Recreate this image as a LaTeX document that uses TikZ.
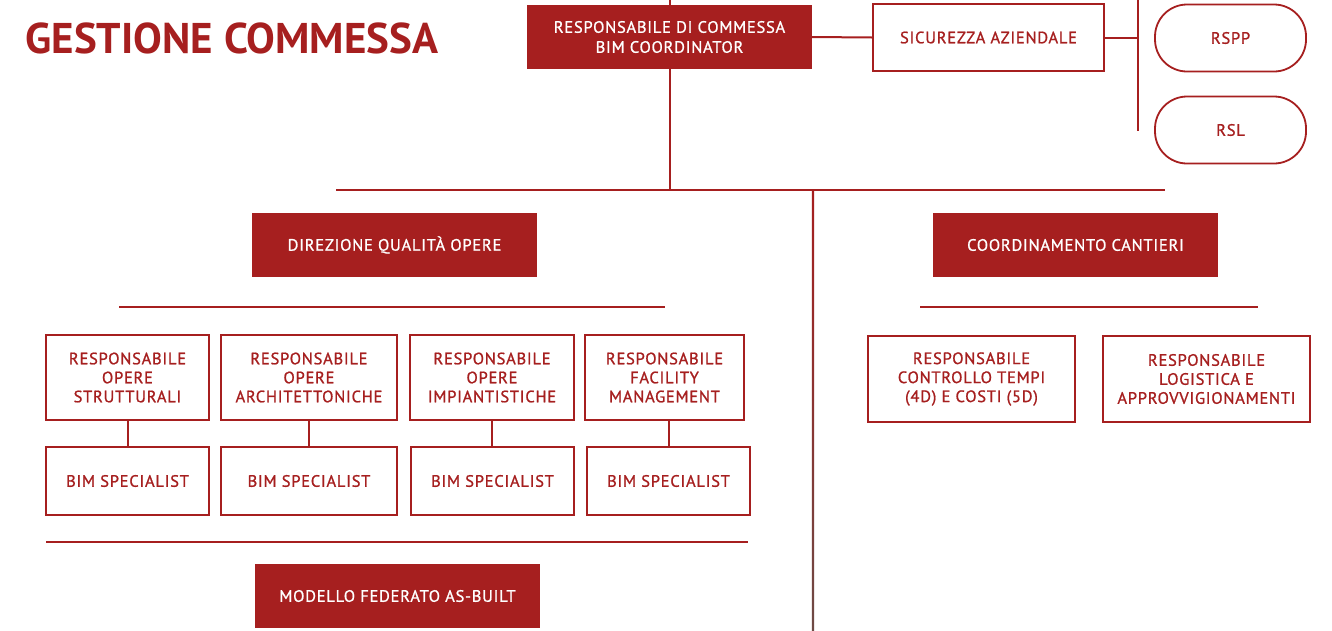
\documentclass[tikz,border=0pt]{standalone}
\usepackage{fontspec}
\setmainfont{PT Sans}
\newfontfamily\dinfont{PT Sans}[LetterSpace=4.5, FakeBold=1]
\definecolor{commred}{HTML}{A61F1F}
\definecolor{commbrown}{HTML}{6E4A45}

\tikzset{
  fillbox/.style={rectangle, fill=commred, text=white, inner sep=0,
    minimum width=285, minimum height=64, align=center,
    font=\dinfont\fontsize{16.5}{20}\selectfont},
  linebox/.style={rectangle, draw=commred, line width=1.8, fill=white,
    text=commred, inner sep=0, align=center,
    font=\dinfont\fontsize{16.5}{19}\selectfont},
  pillbox/.style={linebox, rounded corners=32, minimum width=151, minimum height=67},
  link/.style={draw=commred, line width=2}
}

\begin{document}
\begin{tikzpicture}[x=1pt, y=-1pt]

\useasboundingbox (0,0) rectangle (1332,630);

\node[anchor=west, text=commred, font=\bfseries\fontsize{43}{43}\selectfont] (title) at (22,38) {GESTIONE COMMESSA};

% vertice
\node[fillbox] (rdc) at (669.5,37) {RESPONSABILE DI COMMESSA\\BIM COORDINATOR};
\node[linebox, minimum width=231, minimum height=67] (sic) at (988.5,37.5) {SICUREZZA AZIENDALE};
\node[pillbox] (rspp) at (1230.5,38) {RSPP};
\node[pillbox] (rsl) at (1230.5,130) {RSL};

\coordinate (topC) at (669.5,0);
\coordinate (busC) at (669.5,190);
\coordinate (busL) at (336,190);
\coordinate (busR) at (1165,190);
\coordinate (secT) at (1138,0);
\coordinate (secB) at (1138,131);

\draw[link] (topC) -- (rdc.north);
\draw[link] (rdc.south) -- (busC);
\draw[link] (busL) -- (busR);
\draw[link] (rdc.east) -- (sic.west);
\draw[link] (secT) -- (secB);
\draw[link] (sic.east) -- (sic.east -| secT);

\shade[top color=commred, bottom color=commbrown] (811.8,191) rectangle (814.2,630);

% rami
\node[fillbox] (dqo) at (394.5,245) {DIREZIONE QUALITÀ OPERE};
\node[fillbox] (cc) at (1075.5,245) {COORDINAMENTO CANTIERI};

\coordinate (ruleAL) at (119,307);
\coordinate (ruleAR) at (665,307);
\coordinate (ruleBL) at (920,307);
\coordinate (ruleBR) at (1258,307);
\draw[link] (ruleAL) -- (ruleAR);
\draw[link] (ruleBL) -- (ruleBR);

% responsabili opere
\node[linebox, minimum width=163, minimum height=85] (ros) at (127.5,377.5) {RESPONSABILE\\OPERE\\STRUTTURALI};
\node[linebox, minimum width=176, minimum height=85] (roa) at (309,377.5) {RESPONSABILE\\OPERE\\ARCHITETTONICHE};
\node[linebox, minimum width=164, minimum height=85] (roi) at (492,377.5) {RESPONSABILE\\OPERE\\IMPIANTISTICHE};
\node[linebox, minimum width=159, minimum height=85] (rfm) at (664.5,377.5) {RESPONSABILE\\FACILITY\\MANAGEMENT};

\node[linebox, minimum width=163, minimum height=68] (bs1) at (127.5,481) {BIM SPECIALIST};
\node[linebox, minimum width=176, minimum height=68] (bs2) at (309,481) {BIM SPECIALIST};
\node[linebox, minimum width=163, minimum height=68] (bs3) at (492.5,481) {BIM SPECIALIST};
\node[linebox, minimum width=163, minimum height=68] (bs4) at (668.5,481) {BIM SPECIALIST};

\draw[link] (ros.south) -- (bs1.north);
\draw[link] (roa.south) -- (bs2.north);
\draw[link] (roi.south) -- (roi.south |- bs3.north);
\draw[link] (bs4.north |- rfm.south) -- (bs4.north);

\coordinate (ruleCL) at (46,542);
\coordinate (ruleCR) at (748,542);
\draw[link] (ruleCL) -- (ruleCR);

\node[fillbox] (mfa) at (397.5,596) {MODELLO FEDERATO AS-BUILT};

% cantieri
\node[linebox, minimum width=207, minimum height=86] (rct) at (971.5,379) {RESPONSABILE\\CONTROLLO TEMPI\\(4D) E COSTI (5D)};
\node[linebox, minimum width=207, minimum height=86] (rla) at (1206.5,379) {RESPONSABILE\\LOGISTICA E\\APPROVVIGIONAMENTI};

\end{tikzpicture}
\end{document}
